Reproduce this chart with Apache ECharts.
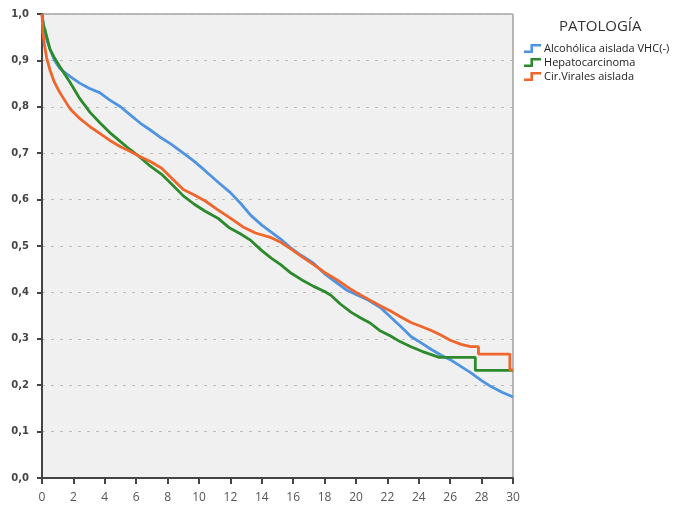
<!DOCTYPE html>
<html><head><meta charset="utf-8">
<script src="https://cdn.jsdelivr.net/npm/echarts@6/dist/echarts.min.js"></script>
<style>html,body{margin:0;padding:0;background:#fff}#c{width:677px;height:510px}</style>
</head><body><div id="c"></div>
<script>
const seriesNames = ["Alcohólica aislada VHC(-)", "Hepatocarcinoma", "Cir.Virales aislada"];
const legendTitle = "PATOLOGÍA";
const xTicks = [0,2,4,6,8,10,12,14,16,18,20,22,24,26,28,30];
const yTicks = [0,0.1,0.2,0.3,0.4,0.5,0.6,0.7,0.8,0.9,1.0];

const alcoholica = [[0,1.0],[0.1,0.97],[0.25,0.95],[0.5,0.925],[0.8,0.9],[1.15,0.882],[1.8,0.865],[2.4,0.851],[3.0,0.84],[3.7,0.83],[4.3,0.815],[5.0,0.80],[5.6,0.783],[6.25,0.765],[6.9,0.75],[7.5,0.735],[8.2,0.72],[9.0,0.70],[9.6,0.685],[10.3,0.665],[11.2,0.638],[12.0,0.615],[12.7,0.59],[13.3,0.566],[14.0,0.545],[14.6,0.53],[15.2,0.515],[15.8,0.497],[16.5,0.48],[17.3,0.463],[18.0,0.44],[18.8,0.42],[19.4,0.405],[20.1,0.394],[20.8,0.383],[21.6,0.366],[22.2,0.347],[22.8,0.328],[23.5,0.305],[24.2,0.29],[24.8,0.277],[25.4,0.265],[26.0,0.255],[26.7,0.24],[27.3,0.227],[28.0,0.21],[28.6,0.197],[29.3,0.185],[29.9,0.176],[30,0.175]];
const hepatocarcinoma = [[0,1.0],[0.1,0.975],[0.2,0.965],[0.5,0.925],[0.8,0.905],[1.15,0.886],[1.8,0.852],[2.4,0.818],[3.06,0.788],[3.7,0.765],[4.3,0.745],[5.0,0.725],[5.6,0.708],[6.3,0.69],[6.9,0.672],[7.6,0.655],[8.3,0.632],[9.0,0.608],[9.7,0.59],[10.4,0.575],[11.2,0.56],[11.9,0.54],[12.6,0.527],[13.3,0.512],[14.0,0.49],[14.6,0.474],[15.2,0.46],[15.8,0.443],[16.5,0.428],[17.3,0.413],[18.0,0.402],[18.4,0.394],[19.0,0.375],[19.7,0.357],[20.3,0.345],[20.9,0.334],[21.5,0.318],[22.2,0.306],[22.8,0.294],[23.5,0.283],[24.2,0.273],[24.8,0.266],[25.3,0.26],[27.6,0.26],[27.6,0.232],[30,0.232]];
const cirViral = [[0,1.0],[0.05,0.96],[0.15,0.935],[0.3,0.905],[0.5,0.88],[0.8,0.852],[1.15,0.83],[1.8,0.795],[2.4,0.775],[3.06,0.757],[3.7,0.742],[4.3,0.728],[5.0,0.714],[5.6,0.704],[6.3,0.692],[6.9,0.682],[7.6,0.668],[8.3,0.645],[9.0,0.622],[9.7,0.61],[10.4,0.597],[11.2,0.578],[12.0,0.56],[12.8,0.541],[13.6,0.528],[14.6,0.518],[15.2,0.508],[15.8,0.495],[16.5,0.478],[17.3,0.46],[18.0,0.443],[18.8,0.427],[19.4,0.413],[20.1,0.398],[20.8,0.385],[21.6,0.37],[22.2,0.36],[22.8,0.348],[23.5,0.335],[24.2,0.326],[24.8,0.318],[25.4,0.308],[26.0,0.297],[26.7,0.288],[27.3,0.283],[27.8,0.283],[27.8,0.267],[29.8,0.267],[29.8,0.233],[30,0.233]];

const colors = ['#4f94e3','#2c8a2c','#f0652c'];
const stepIcon = 'path://M0,6 L6,6 L6,0 L16,0 L16,2.4 L8.4,2.4 L8.4,8.4 L0,8.4 Z';

const chart = echarts.init(document.getElementById('c'), null, {renderer:'canvas'});
chart.setOption({
  animation:false,
  backgroundColor:'#fff',
  title:{text:legendTitle, left:554, top:14, textStyle:{fontFamily:'Open Sans', fontSize:15, fontWeight:'normal', color:'#333'}},
  legend:{orient:'vertical', left:519, top:38, itemGap:3, itemWidth:21, itemHeight:9,
    data:seriesNames.map(n=>({name:n, icon:stepIcon})),
    textStyle:{fontFamily:'Open Sans', fontSize:11, color:'#222', padding:[0,0,0,-4]}},
  grid:{left:42, right:164, top:14, bottom:32, show:true, backgroundColor:'#f0f0f0', borderColor:'#777', borderWidth:1},
  xAxis:{type:'value', min:0, max:30, interval:2,
    axisLine:{show:true, onZero:false, lineStyle:{color:'#444', width:2}},
    axisTick:{show:true, length:6, lineStyle:{color:'#444', width:2}},
    axisLabel:{color:'#555', fontFamily:'Open Sans', fontSize:12, margin:14, formatter:v=>String(v)},
    splitLine:{show:false}},
  yAxis:{type:'value', min:0, max:1, interval:0.1,
    axisLine:{show:true, lineStyle:{color:'#444', width:2}},
    axisTick:{show:true, length:5, lineStyle:{color:'#444', width:2}},
    axisLabel:{color:'#444', fontFamily:'DejaVu Sans', fontSize:10, fontWeight:'bold', margin:13, formatter:v=>v.toFixed(1).replace('.',',')},
    splitLine:{show:true, lineStyle:{color:'#bbb', type:[3,6], width:1}}},
  series:[
    {name:seriesNames[0], type:'line', data:alcoholica, showSymbol:false, color:colors[0], lineStyle:{width:2.8}},
    {name:seriesNames[1], type:'line', data:hepatocarcinoma, showSymbol:false, color:colors[1], lineStyle:{width:2.8}},
    {name:seriesNames[2], type:'line', data:cirViral, showSymbol:false, color:colors[2], lineStyle:{width:2.8}}
  ]
});
</script></body></html>
